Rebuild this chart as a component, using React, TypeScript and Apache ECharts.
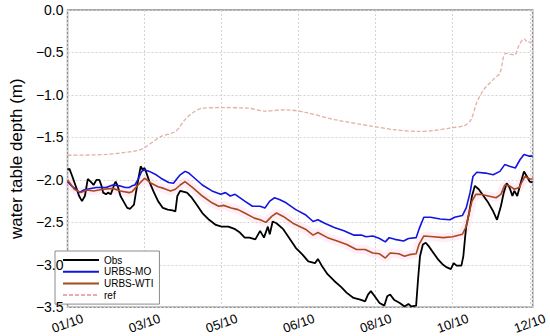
import React, { useEffect, useRef } from "react";
import * as echarts from "echarts";

// x is a sample position along the time axis; one tick step = 80 samples
const tickLabels = ["01/10", "03/10", "05/10", "06/10", "08/10", "10/10", "12/10"];
const tickStep = 80;
const tMax = 483;

const obsT = [0, 2, 5, 9, 12, 15, 18, 21, 24, 27, 30, 33, 35, 37, 40, 42, 45, 49, 50, 52, 55, 59, 62, 65, 69, 71, 74, 76, 78, 80, 82, 85, 89, 94, 99, 104, 109, 112, 114, 117, 124, 129, 134, 140, 147, 154, 160, 167, 174, 179, 184, 189, 195, 200, 204, 208, 210, 213, 217, 224, 230, 237, 244, 250, 257, 260, 264, 270, 277, 284, 290, 297, 304, 309, 312, 315, 319, 324, 329, 332, 335, 339, 345, 350, 354, 357, 362, 364, 366, 369, 372, 375, 380, 385, 390, 394, 398, 401, 404, 409, 411, 413, 414, 417, 420, 423, 427, 432, 437, 442, 446, 450, 453, 456, 459, 462, 464, 467, 470, 474, 477, 480, 483];
const obsV = [-1.88, -1.87, -1.96, -2.09, -2.19, -2.25, -2.19, -1.99, -2.02, -2.06, -2.0, -2.0, -2.06, -2.15, -2.17, -2.15, -2.17, -2.04, -2.02, -2.07, -2.19, -2.27, -2.33, -2.34, -2.29, -2.15, -1.96, -1.84, -1.88, -1.86, -1.92, -2.02, -2.13, -2.25, -2.33, -2.35, -2.36, -2.37, -2.19, -2.13, -2.15, -2.21, -2.29, -2.39, -2.47, -2.53, -2.55, -2.55, -2.58, -2.62, -2.68, -2.68, -2.7, -2.6, -2.68, -2.55, -2.64, -2.49, -2.51, -2.58, -2.68, -2.8, -2.88, -2.96, -2.98, -2.93, -3.01, -3.11, -3.19, -3.26, -3.33, -3.39, -3.41, -3.43, -3.35, -3.31, -3.37, -3.45, -3.48, -3.37, -3.35, -3.41, -3.45, -3.49, -3.46, -3.49, -3.48, -3.17, -2.9, -2.76, -2.74, -2.78, -2.86, -2.94, -3.0, -3.03, -3.05, -2.98, -3.01, -3.01, -2.9, -2.66, -2.55, -2.39, -2.19, -2.07, -2.11, -2.19, -2.27, -2.37, -2.47, -2.31, -2.15, -2.04, -2.09, -2.19, -2.13, -2.19, -2.06, -1.9, -1.96, -2.02, -2.03];

const moT = [0, 5, 9, 12, 17, 20, 30, 40, 47, 54, 60, 64, 67, 70, 73, 77, 80, 85, 92, 97, 105, 110, 114, 117, 122, 126, 130, 140, 150, 159, 164, 169, 174, 184, 192, 200, 205, 210, 215, 220, 227, 237, 247, 255, 260, 267, 277, 287, 297, 305, 310, 317, 324, 330, 334, 340, 349, 354, 362, 365, 370, 377, 387, 397, 402, 410, 414, 418, 421, 425, 434, 442, 449, 454, 459, 465, 470, 474, 479, 483];
const moV = [-2.02, -2.08, -2.11, -2.15, -2.12, -2.11, -2.09, -2.09, -2.06, -2.07, -2.09, -2.09, -2.07, -2.06, -2.0, -1.9, -1.88, -1.9, -1.94, -1.98, -2.03, -2.04, -1.98, -1.94, -1.9, -1.92, -1.96, -2.06, -2.13, -2.17, -2.15, -2.19, -2.17, -2.25, -2.31, -2.31, -2.33, -2.25, -2.21, -2.23, -2.27, -2.35, -2.41, -2.49, -2.47, -2.51, -2.56, -2.6, -2.65, -2.65, -2.67, -2.66, -2.69, -2.73, -2.68, -2.7, -2.72, -2.69, -2.68, -2.58, -2.44, -2.44, -2.46, -2.47, -2.44, -2.42, -2.33, -2.15, -1.96, -1.91, -1.92, -1.94, -1.9, -1.82, -1.84, -1.86, -1.76, -1.7, -1.72, -1.72];

const wtiT = [0, 4, 7, 14, 20, 27, 37, 47, 55, 64, 67, 70, 75, 80, 87, 94, 100, 107, 112, 117, 122, 130, 140, 150, 157, 162, 170, 177, 184, 194, 200, 206, 212, 217, 224, 234, 247, 255, 260, 270, 280, 290, 300, 309, 317, 324, 330, 335, 344, 350, 355, 362, 365, 370, 380, 390, 400, 410, 414, 417, 420, 424, 429, 437, 445, 450, 454, 459, 464, 469, 472, 475, 480, 483];
const wtiV = [-2.0, -2.06, -2.11, -2.15, -2.12, -2.13, -2.11, -2.1, -2.13, -2.15, -2.14, -2.1, -2.04, -1.98, -2.04, -2.08, -2.1, -2.13, -2.11, -2.06, -2.02, -2.09, -2.19, -2.27, -2.31, -2.3, -2.33, -2.35, -2.39, -2.45, -2.47, -2.5, -2.43, -2.39, -2.43, -2.51, -2.58, -2.65, -2.62, -2.68, -2.72, -2.76, -2.82, -2.82, -2.86, -2.87, -2.92, -2.86, -2.87, -2.9, -2.88, -2.87, -2.76, -2.66, -2.67, -2.68, -2.67, -2.64, -2.55, -2.39, -2.25, -2.17, -2.17, -2.19, -2.21, -2.17, -2.06, -2.07, -2.11, -2.09, -2.02, -1.96, -1.99, -1.99];

const refT = [0, 40, 72, 80, 97, 112, 122, 130, 140, 160, 187, 205, 227, 247, 277, 317, 340, 364, 380, 397, 412, 419, 425, 432, 442, 449, 455, 464, 469, 474, 478, 483];
const refV = [-1.71, -1.7, -1.656, -1.62, -1.49, -1.43, -1.29, -1.21, -1.155, -1.15, -1.155, -1.19, -1.175, -1.206, -1.29, -1.37, -1.41, -1.43, -1.42, -1.39, -1.36, -1.29, -1.09, -0.94, -0.82, -0.74, -0.51, -0.53, -0.41, -0.34, -0.38, -0.376];

const zip = (t: number[], v: number[]) => t.map((x, i) => [x, v[i]]);

const FONT = "'Liberation Sans', Arial, sans-serif";
const yMin = -3.5;
const yMax = 0;
const yStep = 0.5;

const fmtY = (v: number) => {
  const a = (Math.round(Math.abs(v) * 10) / 10).toFixed(1);
  return (v < 0 ? "\u2212" : "") + a;
};

const gridLine = { show: true, lineStyle: { color: "#d4d4d4", type: [2, 2], width: 1 } };

export default function App() {
  const ref = useRef<HTMLDivElement>(null);
  useEffect(() => {
    if (!ref.current) return;
    const chart = echarts.init(ref.current, null, { renderer: "svg" });
    chart.setOption({
      animation: false,
      backgroundColor: "#ffffff",
      grid: {
        left: 53,
        top: 10,
        right: 14,
        bottom: 28,
        show: true,
        borderColor: "#8c8c8c",
        borderWidth: 1.5,
        backgroundColor: "transparent",
      },
      legend: {
        orient: "vertical",
        left: 55,
        top: 251,
        z: 3,
        data: ["Obs", "URBS-MO", "URBS-WTI", "ref"],
        itemWidth: 36,
        itemHeight: 10,
        itemGap: 1.7,
        padding: [4, 6, 4, 7],
        backgroundColor: "#ffffff",
        borderColor: "#8c8c8c",
        borderWidth: 1,
        itemStyle: { opacity: 0 },
        textStyle: { fontFamily: FONT, fontSize: 10, color: "#000" },
      },
      xAxis: {
        type: "value",
        min: 0,
        max: tMax,
        interval: tickStep,
        axisLine: { show: false },
        axisTick: { show: false },
        splitLine: gridLine,
        axisLabel: {
          rotate: 20,
          align: "center",
          verticalAlign: "middle",
          margin: 16,
          fontFamily: FONT,
          fontSize: 13,
          color: "#000",
          showMaxLabel: false,
          formatter: (v: number) => {
            const i = v / tickStep;
            return Number.isInteger(i) && tickLabels[i] ? tickLabels[i] : "";
          },
        },
      },
      yAxis: [
        {
          type: "value",
          min: yMin,
          max: yMax,
          interval: yStep,
          z: 10,
          name: "water table depth (m)",
          nameLocation: "middle",
          nameGap: 38,
          nameTextStyle: { fontFamily: FONT, fontSize: 17, color: "#000" },
          axisLine: { show: false },
          axisTick: { show: false },
          splitLine: { show: false },
          axisLabel: {
            margin: 4,
            fontFamily: FONT,
            fontSize: 14,
            color: "#000",
            formatter: fmtY,
          },
        },
        {
          type: "value",
          min: yMin,
          max: yMax,
          interval: yStep,
          position: "left",
          z: 0,
          axisLine: { show: false },
          axisTick: { show: false },
          axisLabel: { show: false },
          splitLine: gridLine,
        },
      ],
      series: [
        {
          name: "band",
          type: "line",
          data: zip(wtiT, wtiV),
          symbol: "none",
          silent: true,
          lineStyle: { color: "rgba(255,200,230,0.32)", width: 9 },
          z: 1,
        },
        {
          name: "ref",
          type: "line",
          data: zip(refT, refV),
          symbol: "none",
          smooth: 0.3,
          lineStyle: { color: "#e2b0a4", width: 1.3, type: [4, 2] },
          itemStyle: { color: "#e2b0a4" },
          z: 2,
        },
        {
          name: "Obs",
          type: "line",
          data: zip(obsT, obsV),
          symbol: "none",
          lineStyle: { color: "#000000", width: 1.8 },
          itemStyle: { color: "#000000" },
          z: 3,
        },
        {
          name: "URBS-MO",
          type: "line",
          data: zip(moT, moV),
          symbol: "none",
          lineStyle: { color: "#1414e0", width: 1.6 },
          itemStyle: { color: "#1414e0" },
          z: 4,
        },
        {
          name: "URBS-WTI",
          type: "line",
          data: zip(wtiT, wtiV),
          symbol: "none",
          lineStyle: { color: "#a84a1c", width: 1.6 },
          itemStyle: { color: "#a84a1c" },
          z: 5,
        },
      ],
    });
    return () => chart.dispose();
  }, []);
  return <div ref={ref} style={{ width: 550, height: 336, position: "absolute", left: 0, top: 0 }} />;
}
